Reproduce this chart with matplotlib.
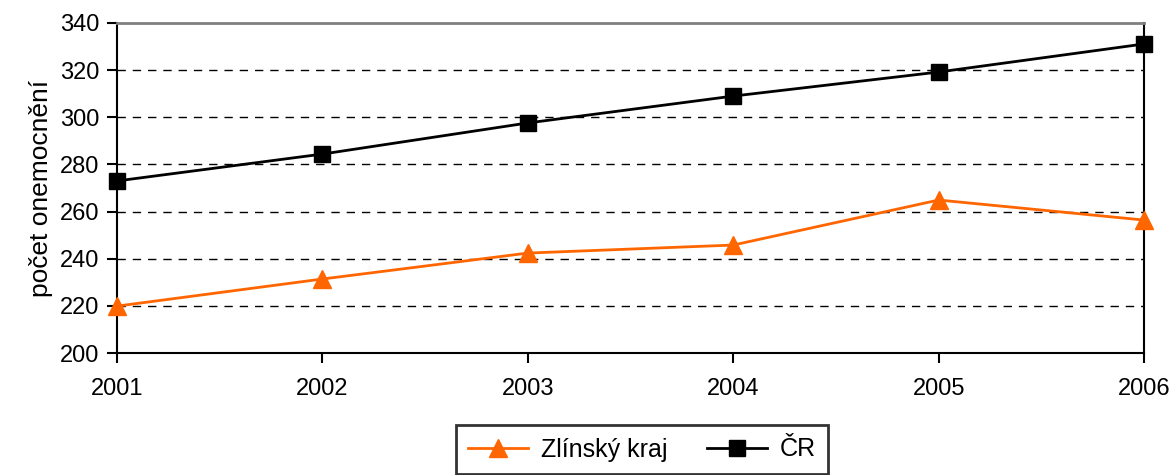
import matplotlib
matplotlib.use("Agg")
import matplotlib.pyplot as plt

plt.rcParams['font.family'] = ['Liberation Sans', 'DejaVu Sans']

years = [2001, 2002, 2003, 2004, 2005, 2006]
zlin = [219.9, 231.4, 242.4, 245.8, 264.9, 256.4]
cr = [273.0, 284.4, 297.6, 309.0, 319.2, 331.1]

fig = plt.figure(figsize=(11.74, 4.75), dpi=100)
ax = fig.add_axes([0.0997, 0.2568, 0.8748, 0.6948])

ax.plot(years, zlin, color="#ff6600", lw=2, marker="^", ms=13, label="Zlínský kraj", clip_on=False, zorder=3)
ax.plot(years, cr, color="black", lw=2, marker="s", ms=11, label="ČR", clip_on=False, zorder=3)

ax.set_xlim(2001, 2006)
ax.set_ylim(200, 340)
ax.set_yticks(range(200, 341, 20))
ax.set_xticks(years)
for y in range(220, 340, 20):
    ax.axhline(y, color="black", lw=1, ls=(0, (6, 5)), zorder=1)

for s in ax.spines.values():
    s.set_linewidth(1.5)
    s.set_color("black")
ax.spines['top'].set_color("#808080")
ax.spines['top'].set_linewidth(2)

ax.tick_params(axis='both', direction='out', length=7, width=1.5, labelsize=17)
ax.tick_params(axis='y', pad=6)
ax.tick_params(axis='x', pad=11)
ax.set_ylabel("počet onemocnění", fontsize=19, labelpad=5)

leg = fig.legend(loc="upper center", bbox_to_anchor=(0.547, 1 - 425 / 475), ncol=2, fontsize=18,
                 frameon=True, fancybox=False, edgecolor="black", handlelength=2.4,
                 handletextpad=0.5, columnspacing=1.6, borderpad=0.5, borderaxespad=0)
leg.get_frame().set_linewidth(2)

fig.savefig("out.png", dpi=100)
